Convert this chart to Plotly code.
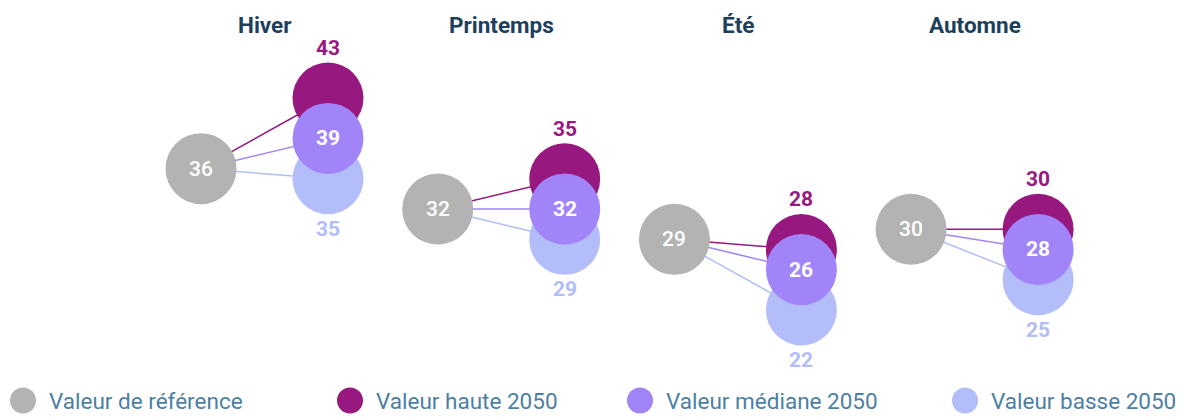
import plotly.graph_objects as go

# Seasonal values: reference period vs. 2050 projections
saisons = ["Hiver", "Printemps", "Été", "Automne"]
reference = [36, 32, 29, 30]
haute_2050 = [43, 35, 28, 30]
mediane_2050 = [39, 32, 26, 28]
basse_2050 = [35, 29, 22, 25]

series_noms = ["Valeur de référence", "Valeur haute 2050", "Valeur médiane 2050", "Valeur basse 2050"]

GRIS = "#b3b3b3"
HAUTE = "#97197f"
MEDIANE = "#a084f8"
BASSE = "#b3bdf9"
TITRE = "#1d3f5e"
LEGENDE = "#4b7fa5"
FONT = "Roboto"

W, H = 1184, 417
X0, PAS, DECALAGE = 201, 236.7, 127   # group layout in pixels
TAILLE = 71                            # circle diameter

x_ref = [X0 + i * PAS for i in range(len(saisons))]
x_proj = [x + DECALAGE for x in x_ref]

fig = go.Figure()

# connector lines from reference to each projection
for i in range(len(saisons)):
    for vals, col in [(basse_2050, BASSE), (mediane_2050, MEDIANE), (haute_2050, HAUTE)]:
        fig.add_trace(go.Scatter(
            x=[x_ref[i], x_proj[i]], y=[reference[i], vals[i]],
            mode="lines", line=dict(color=col, width=1.5),
            hoverinfo="skip", showlegend=False))

def cercles(xs, ys, col, nom):
    fig.add_trace(go.Scatter(
        x=xs, y=ys, mode="markers", name=nom,
        marker=dict(size=TAILLE, color=col, line=dict(width=0), opacity=1),
        showlegend=False))

cercles(x_ref, reference, GRIS, series_noms[0])
cercles(x_proj, basse_2050, BASSE, series_noms[3])
cercles(x_proj, haute_2050, HAUTE, series_noms[1])
cercles(x_proj, mediane_2050, MEDIANE, series_noms[2])

annots = []
for i, s in enumerate(saisons):
    annots.append(dict(x=(x_ref[i] + x_proj[i]) / 2, y=1, xref="x", yref="paper",
                       yanchor="middle", yshift=-25, text=f"<b>{s}</b>", showarrow=False,
                       font=dict(family=FONT, size=22.5, color=TITRE)))
    annots.append(dict(x=x_ref[i], y=reference[i], text=str(reference[i]), showarrow=False,
                       font=dict(family=FONT, size=21, color="white", weight=500)))
    annots.append(dict(x=x_proj[i], y=mediane_2050[i], text=f"<b>{mediane_2050[i]}</b>", showarrow=False,
                       font=dict(family=FONT, size=21, color="white")))
    annots.append(dict(x=x_proj[i], y=haute_2050[i], yshift=50, text=f"<b>{haute_2050[i]}</b>", showarrow=False,
                       font=dict(family=FONT, size=21, color=HAUTE)))
    annots.append(dict(x=x_proj[i], y=basse_2050[i], yshift=-50, text=f"<b>{basse_2050[i]}</b>", showarrow=False,
                       font=dict(family=FONT, size=21, color=BASSE)))

# legend row
shapes = []
leg_x = [23, 350, 640, 965]
R_LEG = 13
for xm, col, nom in zip(leg_x, [GRIS, HAUTE, MEDIANE, BASSE], series_noms):
    shapes.append(dict(type="circle", xref="x", yref="paper",
                       x0=xm - R_LEG, x1=xm + R_LEG,
                       y0=(H - 400.5 - R_LEG) / H, y1=(H - 400.5 + R_LEG) / H,
                       fillcolor=col, line=dict(width=0)))
    annots.append(dict(x=xm + 24, y=(H - 401) / H, xref="x", yref="paper", xanchor="left",
                       yanchor="middle", text=nom, showarrow=False,
                       font=dict(family=FONT, size=22.5, color=LEGENDE)))

px_par_unite = 212 / 21
y_haut = 43 + 98 / px_par_unite
y_bas = 43 - (H - 98) / px_par_unite

fig.update_layout(
    width=W, height=H, margin=dict(l=0, r=0, t=0, b=0),
    paper_bgcolor="white", plot_bgcolor="white",
    xaxis=dict(range=[0, W], visible=False, fixedrange=True),
    yaxis=dict(range=[y_bas, y_haut], visible=False, fixedrange=True),
    annotations=annots, shapes=shapes, showlegend=False,
)

fig.write_html("out.html")
